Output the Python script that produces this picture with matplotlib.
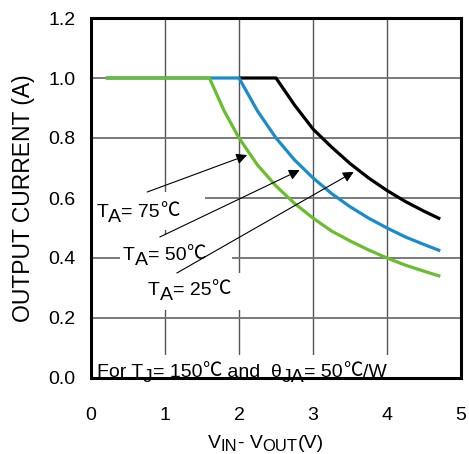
import matplotlib
matplotlib.use("Agg")
import matplotlib.pyplot as plt
from matplotlib.patches import Rectangle

plt.rcParams['font.family'] = ['Liberation Sans', 'Noto Sans CJK SC', 'DejaVu Sans']
CJK = ['Noto Sans CJK SC', 'DejaVu Sans']

# ---- data ----
x_black = [2.0, 2.5, 2.75, 3.0, 3.25, 3.5, 3.75, 4.0, 4.25, 4.5, 4.72]
y_black = [1.0, 1.0, 0.91, 0.83, 0.77, 0.715, 0.667, 0.625, 0.588, 0.556, 0.53]

x_blue = [0.2, 2.0, 2.25, 2.5, 2.75, 3.0, 3.25, 3.5, 3.75, 4.0, 4.25, 4.5, 4.72]
y_blue = [1.0, 1.0, 0.89, 0.80, 0.727, 0.667, 0.615, 0.571, 0.533, 0.50, 0.47, 0.445, 0.424]

x_green = [0.2, 1.6, 1.8, 2.0, 2.25, 2.5, 2.75, 3.0, 3.25, 3.5, 3.75, 4.0, 4.25, 4.5, 4.72]
y_green = [1.0, 1.0, 0.89, 0.80, 0.71, 0.64, 0.582, 0.533, 0.49, 0.457, 0.427, 0.40, 0.376, 0.356, 0.339]

x_ticks = [0, 1, 2, 3, 4, 5]
y_ticks = [0.0, 0.2, 0.4, 0.6, 0.8, 1.0, 1.2]
y_ticklabels = ["0.0", "0.2", "0.4", "0.6", "0.8", "1.0", "1.2"]

labels = ["75", "50", "25"]
label_pos = [(0.07, 0.553), (0.43, 0.41), (0.77, 0.293)]
arrow_start = [(0.76, 0.62), (0.93, 0.47), (1.16, 0.35)]
arrow_tip = [(2.11, 0.743), (2.82, 0.693), (3.55, 0.687)]
# white label backgrounds (x0, y0, w, h) in data units
label_boxes = [(0.0, 0.493, 1.54, 0.127), (0.39, 0.35, 1.51, 0.127),
               (0.5, 0.227, 1.65, 0.123), (0.0, 0.0, 4.3, 0.077)]

fig = plt.figure(figsize=(4.69, 4.54), dpi=100)
ax = fig.add_axes([91/469, 76/454, 370/469, 360/454])
ax.set_xlim(0, 5)
ax.set_ylim(0, 1.2)

for xv in x_ticks[1:-1]:
    ax.axvline(xv, color='#555555', lw=1.0, zorder=0.5)
for yv in y_ticks[1:-1]:
    ax.axhline(yv, color='#707070', lw=1.3, zorder=0.5)

for (x0, y0, w, h) in label_boxes:
    ax.add_patch(Rectangle((x0, y0), w, h, facecolor='white', edgecolor='none', zorder=1))

ax.plot(x_black, y_black, color='black', lw=2.3, zorder=2, solid_capstyle='butt')
ax.plot(x_blue, y_blue, color='#1a8cc8', lw=2.3, zorder=2, solid_capstyle='butt')
ax.plot(x_green, y_green, color='#6abd2e', lw=2.3, zorder=2, solid_capstyle='butt')

FS = 14


def chain(pieces, x, y, transform):
    """pieces: list of (text, dy_points, size, family or None)"""
    prev = None
    cur_dy = 0
    for txt, dy, size, fam in pieces:
        kw = {}
        if fam is not None:
            kw['family'] = fam
        if prev is None:
            prev = ax.text(x, y, txt, transform=transform, fontsize=size,
                           va='baseline', ha='left', zorder=3, clip_on=False, **kw)
        else:
            prev = ax.annotate(txt, xy=(1, 0), xycoords=prev,
                               xytext=(0, dy - cur_dy), textcoords='offset points',
                               fontsize=size, va='bottom', ha='left', zorder=3,
                               annotation_clip=False, **kw)
        cur_dy = dy
    return prev


for lab, (lx, ly) in zip(labels, label_pos):
    chain([("T", 0, FS, None), ("A", -3.5, FS, None), ("= " + lab, 0, FS, None),
           ("℃", 0, FS, CJK)], lx, ly - 0.017, ax.transData)

for s, t in zip(arrow_start, arrow_tip):
    ax.annotate('', xy=t, xytext=s,
                arrowprops=dict(arrowstyle='-|>', color='black', lw=0.8,
                                mutation_scale=16, shrinkA=0, shrinkB=0),
                zorder=4)

chain([("For T", 0, FS, None), ("J", -3.5, FS, None), ("= 150", 0, FS, None),
       ("℃", 0, FS, CJK), (" and  θ", 0, FS, None),
       ("JA", -3.5, FS, None), ("= 50", 0, FS, None), ("℃", 0, FS, CJK),
       ("/W", 0, FS, None)], 0.08, 0.004, ax.transData)

# x label
chain([("V", 0, FS, None), ("IN", -1.5, 12, None), ("- V", 0, FS, None),
       ("OUT", -1.5, 12, None), ("(V)", 0, FS, None)],
      0.316, -0.195, ax.transAxes)

ax.set_ylabel("OUTPUT CURRENT (A)", fontsize=16.5, labelpad=10)

ax.set_xticks(x_ticks)
ax.set_yticks(y_ticks)
ax.set_yticklabels(y_ticklabels)
ax.tick_params(axis='both', length=0, labelsize=FS)
ax.tick_params(axis='x', pad=21)
ax.tick_params(axis='y', pad=11)

for sp in ax.spines.values():
    sp.set_linewidth(2.2)
    sp.set_color('black')
    sp.set_zorder(5)

fig.savefig("out.png", dpi=100)
